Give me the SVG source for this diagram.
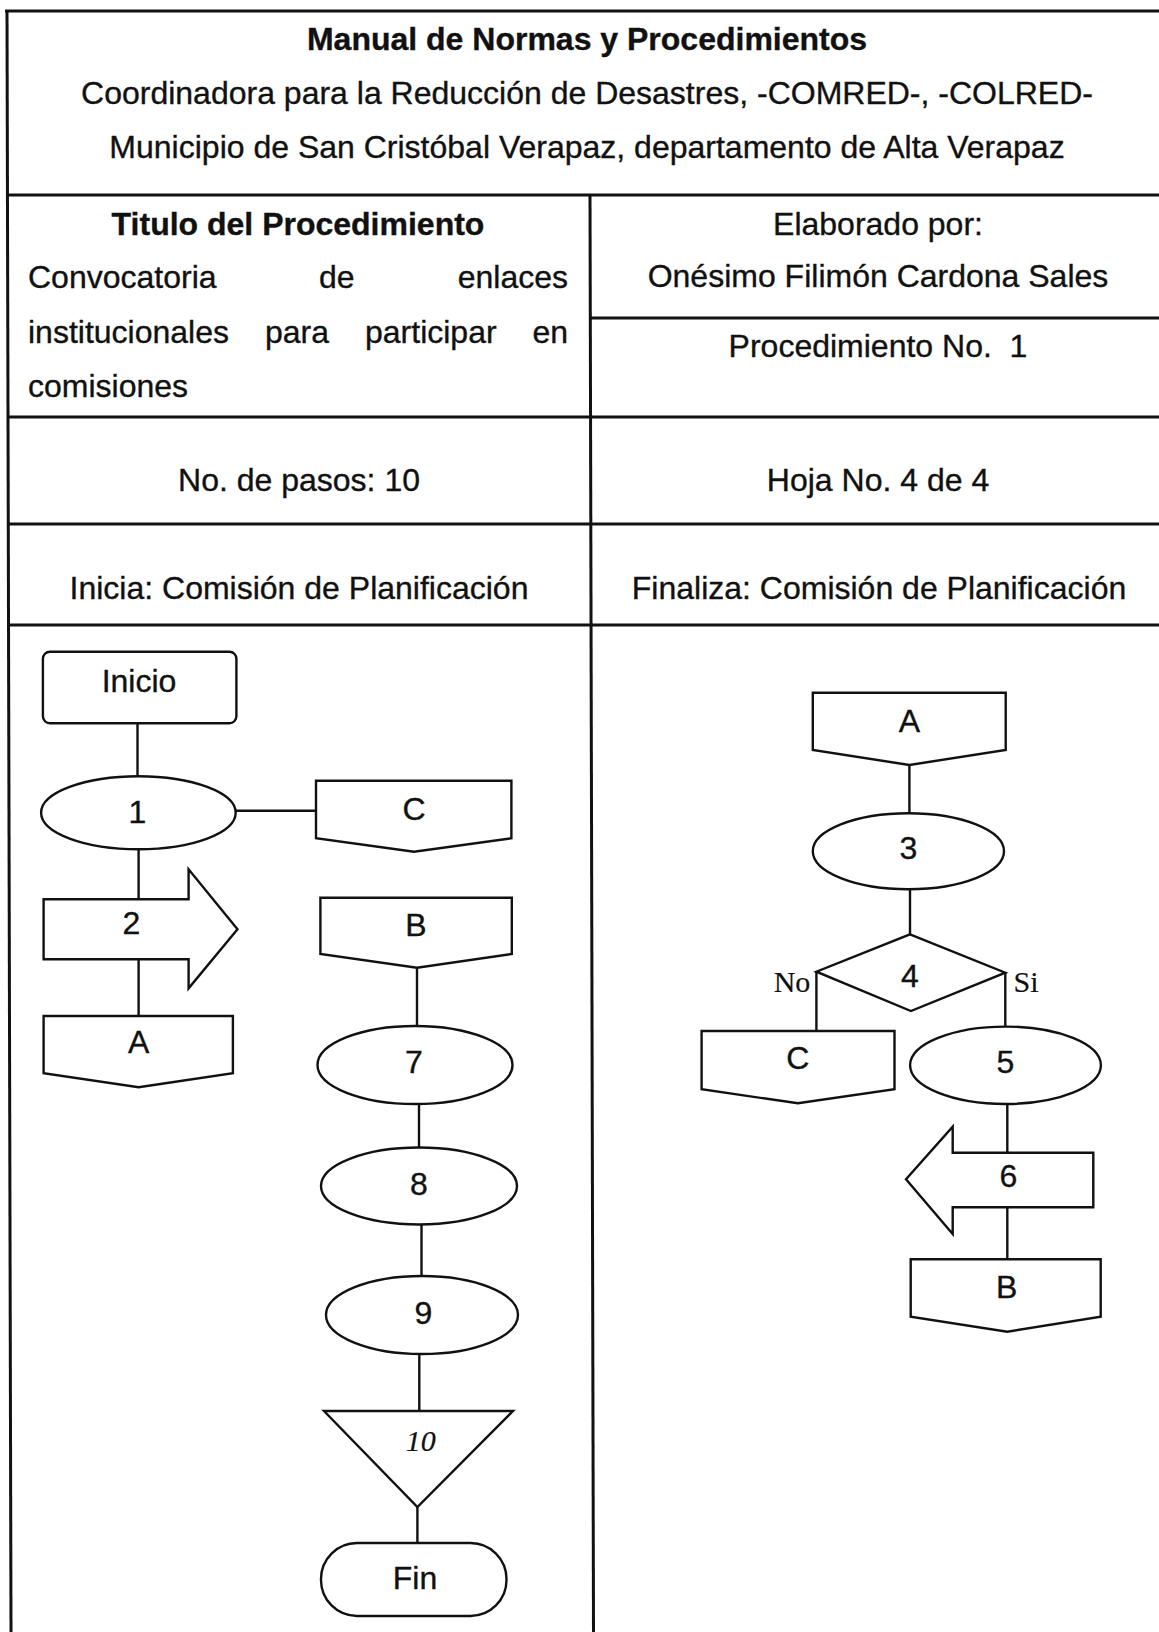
<svg xmlns="http://www.w3.org/2000/svg" width="1159" height="1632" viewBox="0 0 1159 1632">
<style>
text{font-family:"Liberation Sans",Arial,sans-serif;fill:#111;stroke:#111;stroke-width:0.35}
.h{font-size:32px}
.hb{font-size:32px;font-weight:bold}
.c{text-anchor:middle}
.f{font-size:32px;text-anchor:middle}
.t{font-family:"Liberation Serif","Times New Roman",serif;font-size:30px;stroke-width:0.2}
.grid line{stroke:#111;stroke-width:3}
.shape{fill:#fff;stroke:#111;stroke-width:2.4}
#connectors line{stroke:#111;stroke-width:2.4}
</style>
<rect width="1159" height="1632" fill="#fff"/>
<g class="grid">
<line x1="5" y1="11" x2="1159" y2="11"/>
<line x1="7" y1="10" x2="11" y2="1632"/>
<line x1="7" y1="195" x2="1159" y2="195"/>
<line x1="590" y1="195" x2="593.5" y2="1632"/>
<line x1="590" y1="318" x2="1159" y2="318"/>
<line x1="7" y1="417" x2="1159" y2="417"/>
<line x1="8" y1="524" x2="1159" y2="524"/>
<line x1="8" y1="625" x2="1159" y2="625"/>
</g>
<g id="header">
<text class="hb c" x="587" y="50">Manual de Normas y Procedimientos</text>
<text class="h c" x="587" y="104">Coordinadora para la Reducción de Desastres, -COMRED-, -COLRED-</text>
<text class="h c" x="587" y="158">Municipio de San Cristóbal Verapaz, departamento de Alta Verapaz</text>
<text class="hb c" x="298" y="235">Titulo del Procedimiento</text>
<text class="h" y="288"><tspan x="28">Convocatoria</tspan><tspan x="319">de</tspan><tspan x="568" text-anchor="end">enlaces</tspan></text>
<text class="h" y="343"><tspan x="28">institucionales</tspan><tspan x="265">para</tspan><tspan x="365">participar</tspan><tspan x="568" text-anchor="end">en</tspan></text>
<text class="h" x="28" y="397">comisiones</text>
<text class="h c" x="878" y="235">Elaborado por:</text>
<text class="h c" x="878" y="287">Onésimo Filimón Cardona Sales</text>
<text class="h c" x="878" y="357" xml:space="preserve">Procedimiento No.  1</text>
<text class="h c" x="299" y="491">No. de pasos: 10</text>
<text class="h c" x="878" y="491">Hoja No. 4 de 4</text>
<text class="h c" x="299" y="599">Inicia: Comisión de Planificación</text>
<text class="h c" x="879" y="599">Finaliza: Comisión de Planificación</text>
</g>
<g id="connectors">
<line x1="137.5" y1="723" x2="137.5" y2="776.5"/>
<line x1="235.7" y1="810.7" x2="316" y2="810.7"/>
<line x1="138.6" y1="849" x2="138.6" y2="899.3"/>
<line x1="138.6" y1="959.3" x2="138.6" y2="1016"/>
<line x1="417" y1="967.7" x2="417" y2="1026"/>
<line x1="419" y1="1104" x2="419" y2="1148"/>
<line x1="421.5" y1="1224.5" x2="421.5" y2="1276"/>
<line x1="419.3" y1="1354" x2="419.3" y2="1411"/>
<line x1="417.4" y1="1507" x2="417.4" y2="1543"/>
<line x1="909.4" y1="765" x2="909.4" y2="813.3"/>
<line x1="910" y1="889.3" x2="910" y2="934.3"/>
<line x1="816.4" y1="971.7" x2="816.4" y2="1031"/>
<line x1="1005.3" y1="972.7" x2="1005.3" y2="1026.7"/>
<line x1="1007.3" y1="1104" x2="1007.3" y2="1152.7"/>
<line x1="1007.3" y1="1207.3" x2="1007.3" y2="1259.3"/>
</g>
<g id="n-inicio"><rect class="shape" x="42.9" y="651.7" width="193.5" height="71.6" rx="7"/><text class="f" x="139" y="692">Inicio</text></g>
<g id="n-1"><ellipse class="shape" cx="138.4" cy="812.7" rx="97.3" ry="36.5"/><text class="f" x="137.5" y="823">1</text></g>
<g id="n-c-left"><path class="shape" d="M316,780.7H511.4V838.3L414,851.7L316,838.3Z"/><text class="f" x="414" y="820">C</text></g>
<g id="n-2"><path class="shape" d="M43.6,899.3H188.6V869.3L237.5,929.3L188.6,988.3V959.3H43.6Z"/><text class="f" x="131.4" y="934">2</text></g>
<g id="n-a-left"><path class="shape" d="M43.6,1016H232.9V1073.3L138.6,1087.3L43.6,1073.3Z"/><text class="f" x="138.6" y="1053">A</text></g>
<g id="n-b-left"><path class="shape" d="M320.4,897.7H511.8V954L417,967.7L320.4,954Z"/><text class="f" x="416" y="936">B</text></g>
<g id="n-7"><ellipse class="shape" cx="415" cy="1065" rx="97.5" ry="39"/><text class="f" x="414" y="1073.3">7</text></g>
<g id="n-8"><ellipse class="shape" cx="419" cy="1186" rx="98" ry="38.5"/><text class="f" x="419" y="1195">8</text></g>
<g id="n-9"><ellipse class="shape" cx="422" cy="1315" rx="96" ry="39"/><text class="f" x="423.5" y="1324">9</text></g>
<g id="n-10"><path class="shape" d="M324,1411H513L417.4,1507Z"/><text class="t" x="420.8" y="1451" text-anchor="middle" font-style="italic" font-size="29">10</text></g>
<g id="n-fin"><rect class="shape" x="321" y="1543" width="185.5" height="73" rx="36" ry="36"/><text class="f" x="415" y="1588.6">Fin</text></g>
<g id="n-a-right"><path class="shape" d="M812.8,692.7H1005.7V750L909.4,765L812.8,750Z"/><text class="f" x="909.4" y="731.7">A</text></g>
<g id="n-3"><ellipse class="shape" cx="908.4" cy="851.3" rx="95.6" ry="38"/><text class="f" x="908.4" y="859.3">3</text></g>
<g id="n-4"><path class="shape" d="M910,934.3L1005.3,972.7L910.9,1011L816.4,971.7Z"/><text class="f" x="910" y="987.3">4</text>
<text class="t" x="810.3" y="991.7" text-anchor="end">No</text><text class="t" x="1013.5" y="991.7">Si</text></g>
<g id="n-c-right"><path class="shape" d="M701.6,1031H894.5V1089.3L797.9,1103.3L701.6,1089.3Z"/><text class="f" x="797.9" y="1069.3">C</text></g>
<g id="n-5"><ellipse class="shape" cx="1005.5" cy="1065.3" rx="95.4" ry="38.7"/><text class="f" x="1005.3" y="1073.3">5</text></g>
<g id="n-6"><path class="shape" d="M1093.3,1152.7H952.7V1126.7L906,1179.3L952.7,1234V1207.3H1093.3Z"/><text class="f" x="1008.3" y="1186.7">6</text></g>
<g id="n-b-right"><path class="shape" d="M910.7,1259.3H1100.7V1316.7L1007.3,1331.7L910.7,1316.7Z"/><text class="f" x="1006.7" y="1298.3">B</text></g>
</svg>
